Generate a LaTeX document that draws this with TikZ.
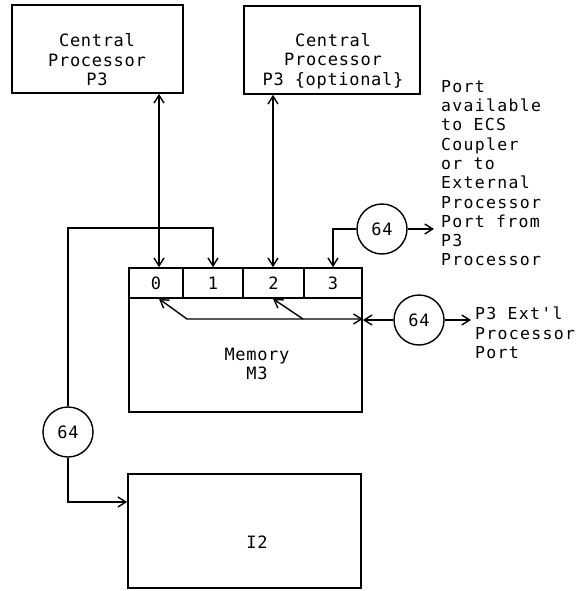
\documentclass[tikz,border=0pt]{standalone}
\usepackage{fontspec}
\setmonofont{DejaVu Sans Mono}
\usetikzlibrary{arrows.meta}
\begin{document}
\begin{tikzpicture}[x=1pt,y=-1pt,
  >={Straight Barb[length=8pt,width=10pt]},
  lbl/.style={font=\ttfamily\fontsize{17}{19.5}\selectfont\addfontfeature{LetterSpace=4}, inner sep=0pt},
  side/.style={font=\ttfamily\fontsize{16.5}{19.3}\selectfont\addfontfeature{LetterSpace=8}, inner sep=0pt, align=left},
  box/.style={draw, line width=1.6pt, inner sep=0pt},
  conn/.style={line width=1.4pt},
  portbox/.style={box, minimum height=30pt, font=\ttfamily\fontsize{17}{19}\selectfont},
  circ/.style={draw, circle, line width=1.4pt, minimum size=50pt, inner sep=0pt,
    font=\ttfamily\fontsize{17}{19}\selectfont\addfontfeature{LetterSpace=4}}]
\useasboundingbox (0,0) rectangle (578,591);

% processors
\node[box, minimum width=171pt, minimum height=88pt] (cp1) at (97.5,49) {};
\node[lbl, align=center] (cp1t) at (97,60) {Central\\Processor\\P3};
\node[box, minimum width=176pt, minimum height=88pt] (cp2) at (332,50) {};
\node[lbl, align=center] (cp2t) at (333,61) {Central\\Processor\\P3 \{optional\}};

% memory
\node[box, minimum width=233pt, minimum height=114pt] (mem) at (245.5,355) {};
\node[portbox, minimum width=54pt] (p0) at (156,283) {0};
\node[portbox, minimum width=60pt] (p1) at (213,283) {1};
\node[portbox, minimum width=61pt] (p2) at (273.5,283) {2};
\node[portbox, minimum width=58pt] (p3) at (333,283) {3};
\node[lbl, align=center] (memt) at (257,364) {Memory\\M3};

% I2
\node[box, minimum width=233pt, minimum height=114pt] (i2) at (244.5,531) {};
\node[lbl] (i2t) at (257,542) {I2};

% circles
\node[circ] (c1) at (382,229) {64};
\node[circ] (c2) at (419,320) {64};
\node[circ] (c3) at (68,432) {64};

% helper coordinates
\coordinate (a0) at (159,0);
\coordinate (a2) at (273,0);
\coordinate (j1) at (0,228);
\coordinate (j2) at (0,502);
\coordinate (k1) at (187,319);
\coordinate (k2) at (303,319);
\coordinate (e1) at (434,229);
\coordinate (e2) at (471,320);

% processor links
\draw[conn,<->] (cp1.south -| a0) -- (p0.north -| a0);
\draw[conn,<->] (cp2.south -| a2) -- (p2.north -| a2);

% port 1 to I2
\draw[conn,->] (c3.north) -- (c3.north |- j1) -| (p1.north);
\draw[conn,->] (c3.south) |- (i2.west |- j2);

% port 3
\draw[conn,->] (c1.west) -| (p3.north);
\draw[conn,->] (c1.east) -- (e1);

% internal paths
\draw[conn,<->] (p0.south -| a0) -- (k1) -- (mem.east |- k1);
\draw[conn,->] (k2) -- (p2.south -| a2);
\draw[conn,->] (c2.west) -- (mem.east |- c2.west);
\draw[conn,->] (c2.east) -- (e2);

% side texts
\node[side, anchor=north west] (t1) at (441,80) {Port\\available\\to ECS\\Coupler\\or to\\External\\Processor\\Port from\\P3\\Processor};
\node[side, anchor=north west] (t2) at (475,307) {P3 Ext'l\\Processor\\Port};
\end{tikzpicture}
\end{document}
